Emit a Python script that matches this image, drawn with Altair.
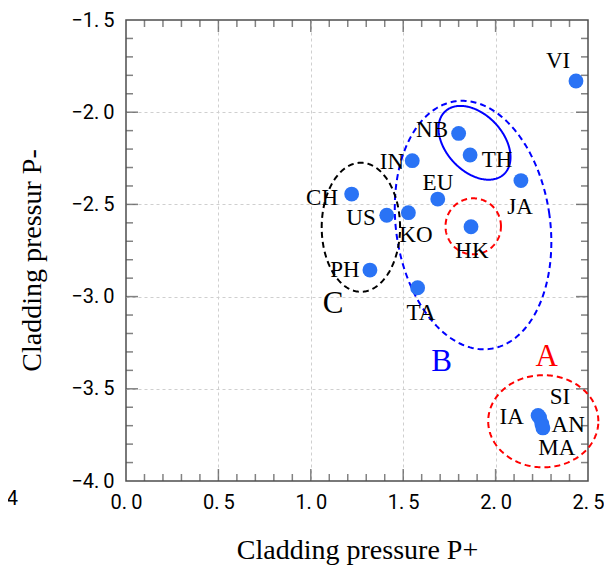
import altair as alt
import pandas as pd
import numpy as np

# ---------------- data ----------------
names = ["VI", "NB", "TH", "IN", "JA", "EU", "CH", "US", "KO", "HK", "PH", "TA",
         "IA", "SI", "AN", "MA"]
p_plus = [2.435, 1.800, 1.862, 1.549, 2.137, 1.687, 1.221, 1.411, 1.528, 1.867,
          1.320, 1.578, 2.230, 2.238, 2.250, 2.256]
p_minus = [-1.831, -2.115, -2.232, -2.263, -2.371, -2.471, -2.444, -2.559, -2.545,
           -2.621, -2.856, -2.952, -3.645, -3.655, -3.690, -3.712]
label_x = [2.338, 1.656, 2.008, 1.439, 2.132, 1.688, 1.061, 1.272, 1.569, 1.872,
           1.185, 1.596, 2.087, 2.348, 2.393, 2.331]
label_y = [-1.722, -2.097, -2.259, -2.270, -2.514, -2.384, -2.465, -2.574, -2.666,
           -2.753, -2.856, -3.089, -3.651, -3.543, -3.696, -3.823]

group_names = ["A", "B", "C"]
group_x = [2.276, 1.708, 1.120]
group_y = [-3.326, -3.353, -3.040]

# ellipse annotations: centre, semi-axes, rotation (deg)
ell_names = ["HK", "A", "B", "NBTH", "C"]
ell_cx = [1.879, 2.258, 1.878, 1.886, 1.271]
ell_cy = [-2.619, -3.676, -2.612, -2.166, -2.624]
ell_rx = [0.150, 0.298, 0.417, 0.233, 0.212]
ell_ry = [0.152, 0.250, 0.678, 0.154, 0.350]
ell_rot = [0, 0, 8, -47, 0]

x_major = [0.0, 0.5, 1.0, 1.5, 2.0, 2.5]
y_major = [-4.0, -3.5, -3.0, -2.5, -2.0, -1.5]
x_minor = [0.1, 0.2, 0.3, 0.4, 0.6, 0.7, 0.8, 0.9, 1.1, 1.2, 1.3, 1.4,
           1.6, 1.7, 1.8, 1.9, 2.1, 2.2, 2.3, 2.4]
y_minor = [-3.9, -3.8, -3.7, -3.6, -3.4, -3.3, -3.2, -3.1, -2.9, -2.8, -2.7, -2.6,
           -2.4, -2.3, -2.2, -2.1, -1.9, -1.8, -1.7, -1.6]
stray_text = ["4"]
stray_x = [-0.615]
stray_y = [-4.095]

# ---------------- tables ----------------
pts = pd.DataFrame({"name": names, "x": p_plus, "y": p_minus,
                    "lx": label_x, "ly": label_y})
groups = pd.DataFrame({"g": group_names, "x": group_x, "y": group_y})

rows = []
t = np.linspace(0, 2 * np.pi, 241)
for n, cx, cy, rx, ry, rot in zip(ell_names, ell_cx, ell_cy, ell_rx, ell_ry, ell_rot):
    phi = np.deg2rad(rot)
    ex = cx + rx * np.cos(t) * np.cos(phi) - ry * np.sin(t) * np.sin(phi)
    ey = cy + rx * np.cos(t) * np.sin(phi) + ry * np.sin(t) * np.cos(phi)
    for i, (a, b) in enumerate(zip(ex, ey)):
        rows.append({"e": n, "i": i, "x": a, "y": b})
ell = pd.DataFrame(rows)

xt_major = pd.DataFrame([{"x": v, "y": e} for v in x_major[1:-1] for e in (y_major[0], y_major[-1])])
xt_minor = pd.DataFrame([{"x": v, "y": e} for v in x_minor for e in (y_major[0], y_major[-1])])
yt_major = pd.DataFrame([{"y": v, "x": e} for v in y_major[1:-1] for e in (x_major[0], x_major[-1])])
yt_minor = pd.DataFrame([{"y": v, "x": e} for v in y_minor for e in (x_major[0], x_major[-1])])
stray = pd.DataFrame({"t": stray_text, "x": stray_x, "y": stray_y})

# ---------------- scales / axes ----------------
xscale = alt.Scale(domain=[0, 2.5], nice=False, zero=False)
yscale = alt.Scale(domain=[-4.0, -1.5], nice=False, zero=False)
label_expr = "replace(format(datum.value, '.1f'), '.', '.\u2009')"
common_axis = dict(ticks=False, domain=False, grid=True, gridDash=[3, 3],
                   gridColor="#cfcfcf", gridWidth=1,
                   labelExpr=label_expr, labelFont="Roboto",
                   labelFontSize=20, labelColor="black", labelFlush=False,
                   labelOverlap=False, titleFont="Liberation Serif",
                   titleFontSize=28, titleFontWeight="normal", titleColor="black")
xaxis = alt.Axis(values=x_major, title="Cladding pressure P+", labelPadding=11,
                 titlePadding=24,
                 gridOpacity={"condition": {"test": "datum.value <= 0 || datum.value >= 2.5", "value": 0}, "value": 1},
                 **common_axis)
yaxis = alt.Axis(values=y_major, title="Cladding pressur P-", labelPadding=12,
                 titlePadding=24, titleY=240,
                 gridOpacity={"condition": {"test": "datum.value <= -4 || datum.value >= -1.5", "value": 0}, "value": 1},
                 **common_axis)


def X(f="x"):
    return alt.X(f"{f}:Q", scale=xscale, axis=xaxis)


def Y(f="y"):
    return alt.Y(f"{f}:Q", scale=yscale, axis=yaxis)


tick_color = "#4d4d4d"
layers = []
for df, orient, size in [(xt_major, "vertical", 24), (xt_minor, "vertical", 14),
                         (yt_major, "horizontal", 24), (yt_minor, "horizontal", 14)]:
    layers.append(alt.Chart(df).mark_tick(orient=orient, size=size, thickness=1.5,
                                          color=tick_color, clip=True)
                  .encode(x=X(), y=Y()))

ell_style = {"HK": ("#ff0000", [6, 4]), "A": ("#ff0000", [6, 4]),
             "B": ("#0000ff", [6, 4]), "NBTH": ("#0000ff", [1, 0]),
             "C": ("#000000", [6, 4])}
for n in ell_names:
    col, dash = ell_style[n]
    layers.append(alt.Chart(ell[ell["e"] == n]).mark_line(
        color=col, strokeDash=dash, strokeWidth=2, clip=False)
        .encode(x=X(), y=Y(), order="i:Q"))

layers.append(alt.Chart(pts).mark_circle(size=220, color="#2a73f5", opacity=1)
              .encode(x=X(), y=Y()))
layers.append(alt.Chart(pts).mark_text(font="Liberation Serif", fontSize=23,
                                       color="black", baseline="middle", align="center")
              .encode(x=X("lx"), y=Y("ly"), text="name:N"))
layers.append(alt.Chart(groups).mark_text(font="Liberation Serif", fontSize=31,
                                          baseline="middle", align="center")
              .encode(x=X(), y=Y(), text="g:N",
                      color=alt.Color("g:N", scale=alt.Scale(domain=group_names,
                                      range=["#ff0000", "#0000ff", "#000000"]),
                                      legend=None)))
layers.append(alt.Chart(stray).mark_text(font="Roboto", fontSize=20,
                                         color="black", baseline="middle",
                                         align="center", clip=False)
              .encode(x=X(), y=Y(), text="t:N"))

chart = alt.layer(*layers).properties(
    width=462, height=461,
    autosize=alt.AutoSizeParams(type="none"),
    padding={"left": 118, "top": 12, "right": 16, "bottom": 86},
).configure_view(stroke=tick_color, strokeWidth=1.5)

chart.save("out.html", embed_options={"renderer": "svg", "actions": False})
